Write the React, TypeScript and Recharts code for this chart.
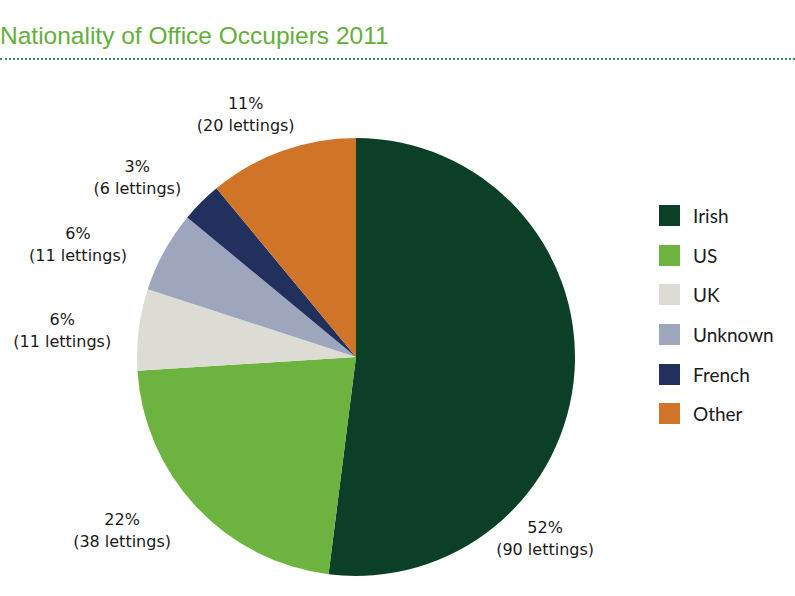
import React from "react";
import { PieChart, Pie, Cell, Legend } from "recharts";

const nationalities = ["Irish", "US", "UK", "Unknown", "French", "Other"];
const percentShares = [52, 22, 6, 6, 3, 11];
const lettingCounts = [90, 38, 11, 11, 6, 20];

const COLORS = ["#0b3f27", "#6cb33f", "#dcdcd4", "#9ea6bd", "#22305e", "#d07428"];

// where each label sits, in polar terms from the pie centre
const LABEL_POS: Record<string, { angle: number; r: number }> = {
  Irish: { angle: -43.8, r: 262 },
  US: { angle: 216.5, r: 291 },
  UK: { angle: 174.8, r: 295 },
  Unknown: { angle: 157.9, r: 300 },
  French: { angle: 140.6, r: 283 },
  Other: { angle: 114.4, r: 267 },
};

const data = nationalities.map((name, i) => ({
  name,
  value: percentShares[i],
  lettings: lettingCounts[i],
}));

const LABEL_FONT = "'DejaVu Sans', sans-serif";
const LEGEND_FONT = "Lato, 'Open Sans', sans-serif";

const renderLabel = (props: any) => {
  const { cx, cy, payload, name } = props;
  const key = (payload && payload.name) || name;
  const pos = LABEL_POS[key];
  if (!pos) return null;
  const rad = (pos.angle * Math.PI) / 180;
  const x = cx + pos.r * Math.cos(rad);
  const y = cy - pos.r * Math.sin(rad);
  const value = payload ? payload.value : props.value;
  const lettings = payload ? payload.lettings : props.lettings;
  return (
    <text
      x={x}
      y={y}
      textAnchor="middle"
      fill="#1a1a1a"
      fontFamily={LABEL_FONT}
      fontSize={16}
    >
      <tspan x={x} dy={-5}>{`${value}%`}</tspan>
      <tspan x={x} dy={22}>{`(${lettings} lettings)`}</tspan>
    </text>
  );
};

const renderLegend = () => (
  <div>
    {data.map((d, i) => (
      <div
        key={d.name}
        style={{ display: "flex", alignItems: "center", height: 39.6 }}
      >
        <div
          style={{ width: 21, height: 21, background: COLORS[i], marginRight: 13 }}
        />
        <span
          style={{
            fontFamily: LEGEND_FONT,
            fontSize: 19,
            color: "#1a1a1a",
          }}
        >
          {d.name}
        </span>
      </div>
    ))}
  </div>
);

export default function App() {
  return (
    <div
      style={{
        position: "fixed",
        left: 0,
        top: 0,
        width: 795,
        height: 596,
        background: "#ffffff",
        overflow: "hidden",
      }}
    >
      <div
        style={{
          position: "absolute",
          left: 0,
          top: 22,
          fontFamily: "'Liberation Sans', Arial, sans-serif",
          fontSize: 24.5,
          color: "#64ae3b",
          whiteSpace: "nowrap",
        }}
      >
        Nationality of Office Occupiers 2011
      </div>
      <div
        style={{
          position: "absolute",
          left: 0,
          top: 58,
          width: 795,
          borderBottom: "2px dotted #3d8a5e",
        }}
      />
      <PieChart width={795} height={596}>
        <Pie
          data={data}
          dataKey="value"
          nameKey="name"
          cx={351}
          cy={352}
          outerRadius={219}
          startAngle={90}
          endAngle={-270}
          stroke="none"
          label={renderLabel}
          labelLine={false}
          isAnimationActive={false}
        >
          {data.map((d, i) => (
            <Cell key={d.name} fill={COLORS[i]} />
          ))}
        </Pie>
        <Legend
          layout="vertical"
          content={renderLegend}
          wrapperStyle={{ position: "absolute", left: 659, top: 196, width: 140 }}
        />
      </PieChart>
    </div>
  );
}
